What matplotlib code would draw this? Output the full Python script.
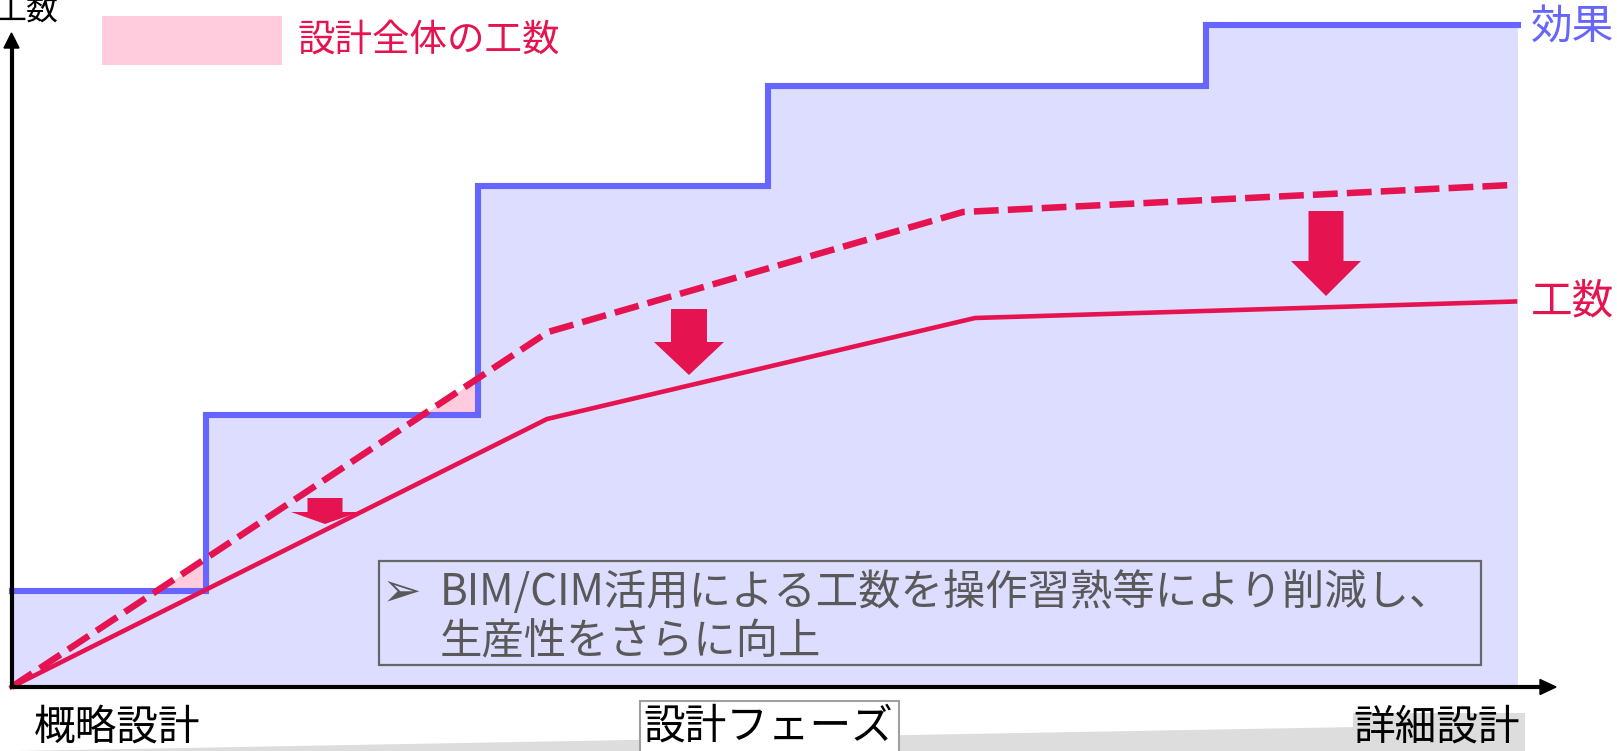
import matplotlib
matplotlib.use("Agg")
import matplotlib.pyplot as plt
from matplotlib.patches import Rectangle, Polygon

plt.rcParams['font.family'] = ['Noto Sans CJK JP', 'DejaVu Sans']

# ---- data (x: progress along design phase, y: amount) ----
effect_x = [0.5, 194.5, 466.5, 756.5, 1194.5, 1506.5]      # step edges
effect_y = [96, 272, 501, 601, 662]                          # step levels
work_x = [0, 535.5, 963.5, 1503.5]                           # 工数 (with BIM/CIM)
work_y = [0, 268, 369, 385.5]
total_x = [0, 536.5, 951.5, 1500.5]                          # 設計全体の工数
total_y = [0, 355, 475, 502]

RED = '#E5134F'
BLUE = '#6666FF'
LAV = '#DDDDFF'
PINK = '#FFCCDD'

fig = plt.figure(figsize=(16.17, 7.51), dpi=100)
ax = fig.add_axes([0, 0, 1, 1])
ax.set_xlim(-11.5, 1605.5)
ax.set_ylim(-64, 687)
ax.axis('off')

# step arrays
sx, sy = [], []
for i, lvl in enumerate(effect_y):
    sx += [effect_x[i], effect_x[i + 1]]
    sy += [lvl, lvl]

ax.fill_between(total_x, 0, total_y, color=PINK, lw=0, zorder=1)
ax.fill_between(sx, 0, sy, color=LAV, lw=0, zorder=2)
ax.plot(sx, sy, color=BLUE, lw=4.4, solid_joinstyle='miter', zorder=4)
ax.plot(work_x, work_y, color=RED, lw=3.3, zorder=5)
ax.plot(total_x, total_y, color=RED, lw=4.7, dashes=(3.8, 1.4), zorder=5)

# ---- overlay in pixel coords ----
ov = fig.add_axes([0, 0, 1, 1], zorder=6)
ov.set_xlim(0, 1617)
ov.set_ylim(751, 0)
ov.axis('off')
ov.patch.set_alpha(0)

# bottom wedge
ov.add_patch(Polygon([(15, 751), (1525, 724), (1525, 751)], closed=True,
                     facecolor='#DDDDDD', edgecolor='none', zorder=1))
ov.add_patch(Rectangle((1353, 713), 172, 40, facecolor='#DDDDDD', edgecolor='none', zorder=1))
ov.add_patch(Rectangle((640, 701), 259, 60, facecolor='white', edgecolor='#A0A0A0', lw=1.5, zorder=2))

# axes arrows
ov.plot([11.5, 1540], [687, 687], color='black', lw=3, solid_capstyle='butt', zorder=3)
ov.add_patch(Polygon([(1540, 679.5), (1556, 687), (1540, 694.5)], closed=True, color='black', zorder=3))
ov.plot([11.5, 11.5], [689, 48], color='black', lw=3, solid_capstyle='butt', zorder=3)
ov.add_patch(Polygon([(4, 48), (11.5, 33), (19, 48)], closed=True, color='black', zorder=3))

# block arrows (down)
for cx, top, hy, tip, sw, hw in [(325, 498, 512, 524, 35, 68),
                                  (689, 309, 342, 375, 36, 70),
                                  (1326, 211, 261, 296, 35, 70)]:
    ov.add_patch(Polygon([(cx - sw / 2, top), (cx + sw / 2, top), (cx + sw / 2, hy),
                          (cx + hw / 2, hy), (cx, tip), (cx - hw / 2, hy),
                          (cx - sw / 2, hy)], closed=True, color=RED, lw=0, zorder=4))

# legend
ov.add_patch(Rectangle((102, 15.5), 180, 49.5, facecolor=PINK, edgecolor='none', zorder=3))
ov.text(298, 40, '設計全体の工数', color=RED, fontsize=27, ha='left', va='center', zorder=5)

# labels
ov.text(58, 11, '工数', color='black', fontsize=23, ha='right', va='center', zorder=5)
ov.text(1531, 28, '効果', color=BLUE, fontsize=30, ha='left', va='center', zorder=5)
ov.text(1531, 302, '工数', color=RED, fontsize=30, ha='left', va='center', zorder=5)
ov.text(34, 728, '概略設計', color='black', fontsize=30, ha='left', va='center', zorder=5)
ov.text(643, 727, '設計フェーズ', color='black', fontsize=30, ha='left', va='center', zorder=5)
ov.text(1353, 728, '詳細設計', color='black', fontsize=30, ha='left', va='center', zorder=5)

# text box
ov.add_patch(Rectangle((378.5, 561), 1102.5, 104, facecolor='none', edgecolor='#666666', lw=1.6, zorder=5))
ov.text(382, 593, '➢', color='#595959', fontsize=34, ha='left', va='center', family=['DejaVu Sans'], zorder=5)
ov.text(440, 593, 'BIM/CIM活用による工数を操作習熟等により削減し、', color='#595959', fontsize=30.5,
        ha='left', va='center', zorder=5)
ov.text(440, 642, '生産性をさらに向上', color='#595959', fontsize=30.5, ha='left', va='center', zorder=5)

fig.savefig('out.png', dpi=100)
